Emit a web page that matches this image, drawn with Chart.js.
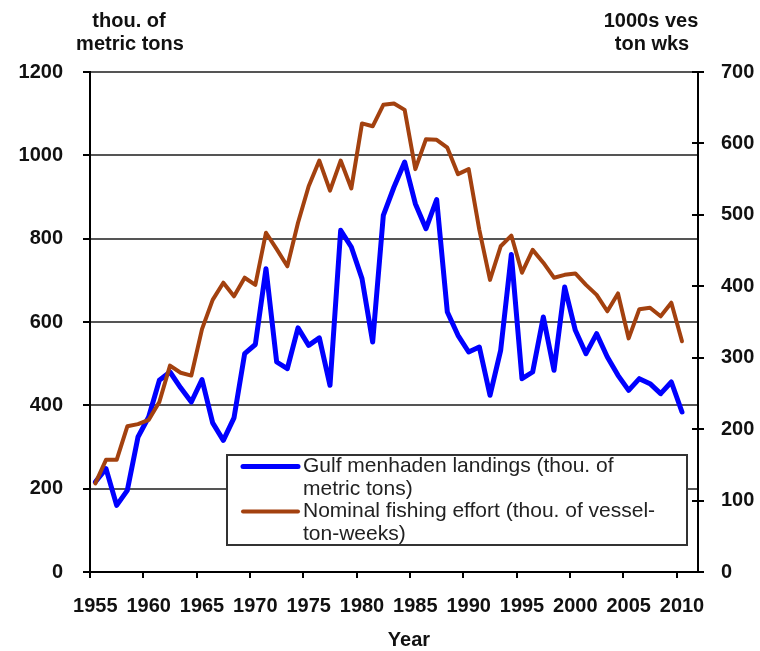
<!DOCTYPE html>
<html>
<head>
<meta charset="utf-8">
<script src="https://cdn.jsdelivr.net/npm/chart.js@4/dist/chart.umd.min.js"></script>
<style>
  html, body { margin: 0; padding: 0; background: #fff; }
  #wrap { width: 760px; height: 651px; position: relative; }
</style>
</head>
<body>
<div id="wrap"><canvas id="c" width="760" height="651"></canvas></div>
<script>
// ---- data ----
const years = [];
for (let y = 1955; y <= 2011; y++) years.push(String(y));

const landings = [216,248,160,196,324,372,460,480,442,408,
                  462,358,316,370,524,546,728,504,488,586,
                  544,562,448,820,780,704,552,856,924,984,
                  884,824,894,624,568,528,540,424,532,762,
                  464,480,612,484,684,580,524,572,516,472,
                  436,464,452,428,456,384,null];

const effort = [124,157,157,204,207,213,238,289,279,275,
                340,381,405,386,412,402,475,452,428,489,
                540,576,534,576,537,628,624,654,656,647,
                564,606,605,594,557,564,479,409,456,471,
                419,451,433,412,416,418,402,388,365,390,
                327,368,370,358,377,323,null];

const leftTitle = ["thou. of", "metric tons"];
const rightTitle = ["1000s ves", "ton wks"];
const xTitle = "Year";
const legendLines = [
  ["Gulf menhaden landings (thou. of", "metric tons)"],
  ["Nominal fishing effort (thou. of vessel-", "ton-weeks)"]
];

const FONT = '"Liberation Sans", Arial, sans-serif';
const BLUE = '#0000FF';
const BROWN = '#A3410F';

const decor = {
  id: 'decor',
  afterDraw(chart) {
    const ctx = chart.ctx;
    const ca = chart.chartArea;
    ctx.save();
    // axis titles
    ctx.fillStyle = '#111';
    ctx.textAlign = 'center';
    ctx.textBaseline = 'middle';
    ctx.font = 'bold 20px ' + FONT;
    ctx.fillText(leftTitle[0], 129, 21);
    ctx.fillText(leftTitle[1], 130, 44);
    ctx.fillText(rightTitle[0], 651, 21);
    ctx.fillText(rightTitle[1], 652, 44);
    ctx.fillText(xTitle, 409, 640);

    // inward tick marks on the right axis
    const y1 = chart.scales.y1;
    ctx.strokeStyle = '#000';
    ctx.lineWidth = 2;
    y1.ticks.forEach(t => {
      const py = Math.round(y1.getPixelForValue(t.value));
      ctx.beginPath();
      ctx.moveTo(ca.right - 6, py);
      ctx.lineTo(ca.right, py);
      ctx.stroke();
    });

    // legend box
    const bx = 227, by = 455, bw = 460, bh = 90;
    ctx.fillStyle = '#fff';
    ctx.fillRect(bx, by, bw, bh);
    ctx.strokeStyle = '#333';
    ctx.lineWidth = 2;
    ctx.strokeRect(bx, by, bw, bh);
    const rows = [[466.5, 489.5], [511.5, 534.5]];
    ctx.font = '21px ' + FONT;
    ctx.textAlign = 'left';
    ctx.textBaseline = 'middle';
    chart.data.datasets.forEach((ds, i) => {
      ctx.strokeStyle = ds.borderColor;
      ctx.lineWidth = ds.borderWidth;
      ctx.lineCap = 'round';
      ctx.beginPath();
      ctx.moveTo(243, rows[i][0]);
      ctx.lineTo(298, rows[i][0]);
      ctx.stroke();
      ctx.fillStyle = '#222';
      legendLines[i].forEach((line, j) => ctx.fillText(line, 303, rows[i][j]));
    });
    ctx.restore();
  }
};

new Chart(document.getElementById('c'), {
  type: 'line',
  data: {
    labels: years,
    datasets: [
      { label: legendLines[0].join(' '), data: landings, yAxisID: 'y',
        borderColor: BLUE, backgroundColor: BLUE, borderWidth: 5, order: 2 },
      { label: legendLines[1].join(' '), data: effort, yAxisID: 'y1',
        borderColor: BROWN, backgroundColor: BROWN, borderWidth: 4, order: 1 }
    ]
  },
  options: {
    responsive: false,
    animation: false,
    devicePixelRatio: 1,
    layout: { padding: { top: 72, left: 0, right: 0, bottom: 0 } },
    elements: {
      line: { tension: 0, borderJoinStyle: 'round', borderCapStyle: 'round' },
      point: { radius: 0, hoverRadius: 0 }
    },
    plugins: { legend: { display: false }, tooltip: { enabled: false }, title: { display: false } },
    scales: {
      x: {
        type: 'category',
        offset: true,
        afterFit: s => { s.height = 79; },
        grid: {
          offset: true,
          drawOnChartArea: false,
          drawTicks: true,
          tickLength: 6,
          lineWidth: 2,
          color: c => (c.index % 5 === 0 && c.index < years.length) ? '#000' : 'rgba(0,0,0,0)'
        },
        border: { display: true, color: '#000', width: 2 },
        ticks: {
          autoSkip: false, maxRotation: 0, minRotation: 0, padding: 16,
          color: '#111', font: { family: FONT, size: 20, weight: 'bold' },
          callback: function (v, i) { return i % 5 === 0 ? years[i] : ''; }
        }
      },
      y: {
        position: 'left',
        min: 0, max: 1200,
        afterFit: s => { s.width = 90; },
        grid: { color: '#555', lineWidth: 2, tickLength: 7, tickColor: '#000', drawTicks: true },
        border: { display: true, color: '#000', width: 2 },
        ticks: { stepSize: 200, padding: 20, color: '#111',
                 font: { family: FONT, size: 20, weight: 'bold' },
                 callback: v => String(v) }
      },
      y1: {
        position: 'right',
        min: 0, max: 700,
        afterFit: s => { s.width = 62; },
        grid: { drawOnChartArea: false, tickLength: 6, tickColor: '#000', lineWidth: 2 },
        border: { display: true, color: '#000', width: 2 },
        ticks: { stepSize: 100, padding: 17, color: '#111',
                 font: { family: FONT, size: 20, weight: 'bold' },
                 callback: v => String(v) }
      }
    }
  },
  plugins: [decor]
});
</script>
</body>
</html>
